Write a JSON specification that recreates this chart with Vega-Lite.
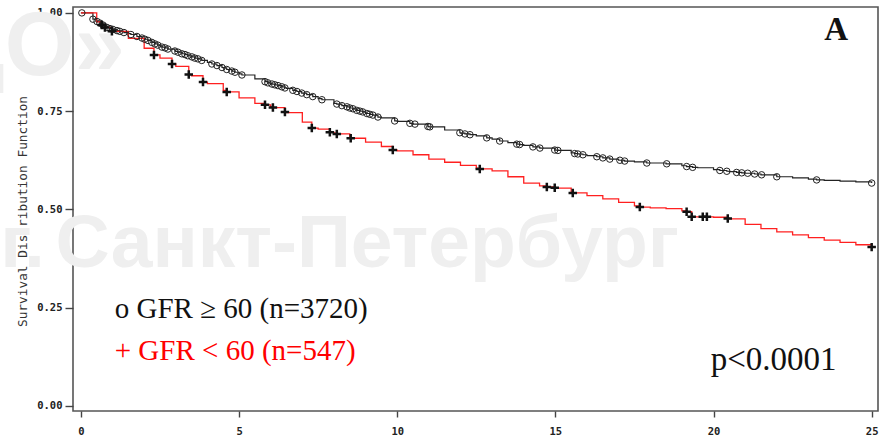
{
  "$schema": "https://vega.github.io/schema/vega-lite/v6.json",
  "width": 805,
  "height": 404,
  "autosize": {"type": "none"},
  "padding": {"left": 73, "top": 7, "right": 4, "bottom": 26},
  "background": "white",
  "config": {
    "view": {"stroke": "#555555", "strokeWidth": 1.6},
    "axis": {"grid": false, "domain": false, "tickColor": "#444444", "tickWidth": 1.4, "labelFont": "DejaVu Sans Mono", "labelFontWeight": "bold", "labelFontSize": 10.5, "labelColor": "#222222"}
  },
  "datasets": {
    "km": [
      {"g":"hi","t":0,"s":1.000,"c":0},{"g":"hi","t":0.5,"s":0.978,"c":0},{"g":"hi","t":1,"s":0.958,"c":0},{"g":"hi","t":1.5,"s":0.947,"c":0},{"g":"hi","t":2,"s":0.934,"c":0},{"g":"hi","t":2.5,"s":0.916,"c":0},{"g":"hi","t":3,"s":0.902,"c":0},{"g":"hi","t":3.5,"s":0.888,"c":0},{"g":"hi","t":4,"s":0.874,"c":0},{"g":"hi","t":4.5,"s":0.860,"c":0},{"g":"hi","t":5,"s":0.845,"c":0},{"g":"hi","t":5.5,"s":0.832,"c":0},{"g":"hi","t":6,"s":0.820,"c":0},{"g":"hi","t":6.5,"s":0.808,"c":0},{"g":"hi","t":7,"s":0.796,"c":0},{"g":"hi","t":7.5,"s":0.782,"c":0},{"g":"hi","t":8,"s":0.770,"c":0},{"g":"hi","t":8.5,"s":0.758,"c":0},{"g":"hi","t":9,"s":0.745,"c":0},{"g":"hi","t":9.5,"s":0.733,"c":0},{"g":"hi","t":10,"s":0.724,"c":0},{"g":"hi","t":10.5,"s":0.717,"c":0},{"g":"hi","t":11,"s":0.710,"c":0},{"g":"hi","t":11.5,"s":0.702,"c":0},{"g":"hi","t":12,"s":0.694,"c":0},{"g":"hi","t":12.5,"s":0.687,"c":0},{"g":"hi","t":13,"s":0.679,"c":0},{"g":"hi","t":13.5,"s":0.670,"c":0},{"g":"hi","t":14,"s":0.663,"c":0},{"g":"hi","t":14.5,"s":0.657,"c":0},{"g":"hi","t":15,"s":0.651,"c":0},{"g":"hi","t":15.5,"s":0.644,"c":0},{"g":"hi","t":16,"s":0.637,"c":0},{"g":"hi","t":16.5,"s":0.631,"c":0},{"g":"hi","t":17,"s":0.625,"c":0},{"g":"hi","t":17.5,"s":0.621,"c":0},{"g":"hi","t":18,"s":0.618,"c":0},{"g":"hi","t":18.5,"s":0.616,"c":0},{"g":"hi","t":19,"s":0.611,"c":0},{"g":"hi","t":19.5,"s":0.606,"c":0},{"g":"hi","t":20,"s":0.601,"c":0},{"g":"hi","t":20.5,"s":0.596,"c":0},{"g":"hi","t":21,"s":0.592,"c":0},{"g":"hi","t":21.5,"s":0.588,"c":0},{"g":"hi","t":22.5,"s":0.580,"c":0},{"g":"hi","t":23,"s":0.577,"c":0},{"g":"hi","t":23.5,"s":0.574,"c":0},{"g":"hi","t":24,"s":0.572,"c":0},{"g":"hi","t":24.5,"s":0.570,"c":0},
      {"g":"hi","t":0.03,"s":1.000,"c":1},{"g":"hi","t":0.38,"s":0.984,"c":1},{"g":"hi","t":0.51,"s":0.978,"c":1},{"g":"hi","t":0.60,"s":0.974,"c":1},{"g":"hi","t":0.70,"s":0.969,"c":1},{"g":"hi","t":0.82,"s":0.963,"c":1},{"g":"hi","t":0.92,"s":0.960,"c":1},{"g":"hi","t":1.01,"s":0.958,"c":1},{"g":"hi","t":1.14,"s":0.955,"c":1},{"g":"hi","t":1.23,"s":0.953,"c":1},{"g":"hi","t":1.36,"s":0.950,"c":1},{"g":"hi","t":1.58,"s":0.945,"c":1},{"g":"hi","t":1.77,"s":0.940,"c":1},{"g":"hi","t":1.93,"s":0.936,"c":1},{"g":"hi","t":2.02,"s":0.933,"c":1},{"g":"hi","t":2.12,"s":0.930,"c":1},{"g":"hi","t":2.24,"s":0.925,"c":1},{"g":"hi","t":2.34,"s":0.921,"c":1},{"g":"hi","t":2.43,"s":0.918,"c":1},{"g":"hi","t":2.56,"s":0.913,"c":1},{"g":"hi","t":2.66,"s":0.911,"c":1},{"g":"hi","t":2.75,"s":0.908,"c":1},{"g":"hi","t":2.97,"s":0.903,"c":1},{"g":"hi","t":3.07,"s":0.900,"c":1},{"g":"hi","t":3.19,"s":0.896,"c":1},{"g":"hi","t":3.29,"s":0.894,"c":1},{"g":"hi","t":3.38,"s":0.891,"c":1},{"g":"hi","t":3.51,"s":0.888,"c":1},{"g":"hi","t":3.60,"s":0.885,"c":1},{"g":"hi","t":3.70,"s":0.883,"c":1},{"g":"hi","t":3.82,"s":0.879,"c":1},{"g":"hi","t":4.14,"s":0.870,"c":1},{"g":"hi","t":4.30,"s":0.866,"c":1},{"g":"hi","t":4.46,"s":0.861,"c":1},{"g":"hi","t":4.61,"s":0.856,"c":1},{"g":"hi","t":4.77,"s":0.852,"c":1},{"g":"hi","t":4.87,"s":0.849,"c":1},{"g":"hi","t":5.09,"s":0.842,"c":1},{"g":"hi","t":5.82,"s":0.825,"c":1},{"g":"hi","t":5.91,"s":0.822,"c":1},{"g":"hi","t":6.04,"s":0.819,"c":1},{"g":"hi","t":6.13,"s":0.817,"c":1},{"g":"hi","t":6.23,"s":0.815,"c":1},{"g":"hi","t":6.35,"s":0.812,"c":1},{"g":"hi","t":6.45,"s":0.809,"c":1},{"g":"hi","t":6.70,"s":0.803,"c":1},{"g":"hi","t":6.83,"s":0.800,"c":1},{"g":"hi","t":6.98,"s":0.796,"c":1},{"g":"hi","t":7.14,"s":0.792,"c":1},{"g":"hi","t":7.33,"s":0.787,"c":1},{"g":"hi","t":7.62,"s":0.779,"c":1},{"g":"hi","t":8.09,"s":0.768,"c":1},{"g":"hi","t":8.25,"s":0.764,"c":1},{"g":"hi","t":8.41,"s":0.761,"c":1},{"g":"hi","t":8.50,"s":0.758,"c":1},{"g":"hi","t":8.60,"s":0.756,"c":1},{"g":"hi","t":8.72,"s":0.752,"c":1},{"g":"hi","t":8.82,"s":0.750,"c":1},{"g":"hi","t":8.91,"s":0.748,"c":1},{"g":"hi","t":9.04,"s":0.744,"c":1},{"g":"hi","t":9.13,"s":0.742,"c":1},{"g":"hi","t":9.23,"s":0.740,"c":1},{"g":"hi","t":9.39,"s":0.735,"c":1},{"g":"hi","t":9.92,"s":0.725,"c":1},{"g":"hi","t":10.40,"s":0.719,"c":1},{"g":"hi","t":10.56,"s":0.717,"c":1},{"g":"hi","t":10.97,"s":0.711,"c":1},{"g":"hi","t":11.03,"s":0.710,"c":1},{"g":"hi","t":11.98,"s":0.695,"c":1},{"g":"hi","t":12.14,"s":0.692,"c":1},{"g":"hi","t":12.30,"s":0.690,"c":1},{"g":"hi","t":12.83,"s":0.682,"c":1},{"g":"hi","t":13.24,"s":0.674,"c":1},{"g":"hi","t":13.78,"s":0.666,"c":1},{"g":"hi","t":13.87,"s":0.665,"c":1},{"g":"hi","t":14.29,"s":0.659,"c":1},{"g":"hi","t":14.51,"s":0.656,"c":1},{"g":"hi","t":14.98,"s":0.651,"c":1},{"g":"hi","t":15.08,"s":0.650,"c":1},{"g":"hi","t":15.61,"s":0.642,"c":1},{"g":"hi","t":15.71,"s":0.641,"c":1},{"g":"hi","t":15.87,"s":0.639,"c":1},{"g":"hi","t":16.31,"s":0.634,"c":1},{"g":"hi","t":16.50,"s":0.631,"c":1},{"g":"hi","t":16.72,"s":0.628,"c":1},{"g":"hi","t":17.04,"s":0.625,"c":1},{"g":"hi","t":17.19,"s":0.623,"c":1},{"g":"hi","t":17.89,"s":0.618,"c":1},{"g":"hi","t":18.52,"s":0.616,"c":1},{"g":"hi","t":19.15,"s":0.609,"c":1},{"g":"hi","t":19.34,"s":0.607,"c":1},{"g":"hi","t":20.20,"s":0.599,"c":1},{"g":"hi","t":20.42,"s":0.597,"c":1},{"g":"hi","t":20.73,"s":0.594,"c":1},{"g":"hi","t":20.89,"s":0.593,"c":1},{"g":"hi","t":21.08,"s":0.592,"c":1},{"g":"hi","t":21.30,"s":0.590,"c":1},{"g":"hi","t":21.52,"s":0.588,"c":1},{"g":"hi","t":22.00,"s":0.583,"c":1},{"g":"hi","t":23.26,"s":0.575,"c":1},{"g":"hi","t":25.00,"s":0.567,"c":1},
      {"g":"lo","t":0,"s":1.000,"c":0},{"g":"lo","t":0.5,"s":0.977,"c":0},{"g":"lo","t":1,"s":0.953,"c":0},{"g":"lo","t":1.5,"s":0.935,"c":0},{"g":"lo","t":2,"s":0.910,"c":0},{"g":"lo","t":2.5,"s":0.885,"c":0},{"g":"lo","t":3,"s":0.864,"c":0},{"g":"lo","t":3.5,"s":0.840,"c":0},{"g":"lo","t":4,"s":0.820,"c":0},{"g":"lo","t":4.5,"s":0.803,"c":0},{"g":"lo","t":5,"s":0.784,"c":0},{"g":"lo","t":5.5,"s":0.770,"c":0},{"g":"lo","t":6,"s":0.761,"c":0},{"g":"lo","t":6.5,"s":0.746,"c":0},{"g":"lo","t":7,"s":0.722,"c":0},{"g":"lo","t":7.5,"s":0.704,"c":0},{"g":"lo","t":8,"s":0.694,"c":0},{"g":"lo","t":8.5,"s":0.682,"c":0},{"g":"lo","t":9,"s":0.671,"c":0},{"g":"lo","t":9.5,"s":0.660,"c":0},{"g":"lo","t":10,"s":0.649,"c":0},{"g":"lo","t":10.5,"s":0.639,"c":0},{"g":"lo","t":11,"s":0.628,"c":0},{"g":"lo","t":11.5,"s":0.620,"c":0},{"g":"lo","t":12,"s":0.612,"c":0},{"g":"lo","t":12.5,"s":0.605,"c":0},{"g":"lo","t":13,"s":0.598,"c":0},{"g":"lo","t":13.5,"s":0.583,"c":0},{"g":"lo","t":14,"s":0.567,"c":0},{"g":"lo","t":14.5,"s":0.560,"c":0},{"g":"lo","t":15,"s":0.554,"c":0},{"g":"lo","t":15.5,"s":0.543,"c":0},{"g":"lo","t":16,"s":0.535,"c":0},{"g":"lo","t":16.5,"s":0.527,"c":0},{"g":"lo","t":17,"s":0.518,"c":0},{"g":"lo","t":17.5,"s":0.509,"c":0},{"g":"lo","t":18,"s":0.504,"c":0},{"g":"lo","t":18.5,"s":0.502,"c":0},{"g":"lo","t":19,"s":0.496,"c":0},{"g":"lo","t":19.5,"s":0.481,"c":0},{"g":"lo","t":20,"s":0.480,"c":0},{"g":"lo","t":20.5,"s":0.476,"c":0},{"g":"lo","t":21,"s":0.462,"c":0},{"g":"lo","t":21.5,"s":0.451,"c":0},{"g":"lo","t":22,"s":0.443,"c":0},{"g":"lo","t":22.5,"s":0.435,"c":0},{"g":"lo","t":23,"s":0.428,"c":0},{"g":"lo","t":23.5,"s":0.422,"c":0},{"g":"lo","t":24,"s":0.416,"c":0},{"g":"lo","t":24.5,"s":0.410,"c":0},
      {"g":"lo","t":0.66,"s":0.969,"c":1},{"g":"lo","t":0.76,"s":0.963,"c":1},{"g":"lo","t":0.98,"s":0.953,"c":1},{"g":"lo","t":2.31,"s":0.893,"c":1},{"g":"lo","t":2.88,"s":0.870,"c":1},{"g":"lo","t":3.41,"s":0.843,"c":1},{"g":"lo","t":3.86,"s":0.824,"c":1},{"g":"lo","t":4.61,"s":0.799,"c":1},{"g":"lo","t":5.82,"s":0.766,"c":1},{"g":"lo","t":6.07,"s":0.759,"c":1},{"g":"lo","t":6.45,"s":0.748,"c":1},{"g":"lo","t":7.30,"s":0.707,"c":1},{"g":"lo","t":7.87,"s":0.696,"c":1},{"g":"lo","t":8.09,"s":0.692,"c":1},{"g":"lo","t":8.53,"s":0.681,"c":1},{"g":"lo","t":9.86,"s":0.651,"c":1},{"g":"lo","t":12.61,"s":0.603,"c":1},{"g":"lo","t":14.73,"s":0.557,"c":1},{"g":"lo","t":14.98,"s":0.555,"c":1},{"g":"lo","t":15.55,"s":0.542,"c":1},{"g":"lo","t":17.67,"s":0.506,"c":1},{"g":"lo","t":19.15,"s":0.494,"c":1},{"g":"lo","t":19.31,"s":0.481,"c":1},{"g":"lo","t":19.66,"s":0.481,"c":1},{"g":"lo","t":19.79,"s":0.481,"c":1},{"g":"lo","t":20.45,"s":0.477,"c":1},{"g":"lo","t":25.00,"s":0.404,"c":1}
    ],
    "notes": [
      {"label": "Санкт-Петербург", "kind": "wm"},
      {"label": "г.", "kind": "wm2"},
      {"label": "ДО»", "kind": "wm3"},
      {"label": "o GFR ≥ 60 (n=3720)", "kind": "hi"},
      {"label": "+ GFR < 60 (n=547)", "kind": "lo"},
      {"label": "p<0.0001", "kind": "p"},
      {"label": "A", "kind": "panel"}
    ]
  },
  "layer": [
    {"data": {"name": "notes"}, "transform": [{"filter": "datum.kind === 'wm'"}],
     "mark": {"type": "text", "font": "Liberation Sans", "fontWeight": "bold", "fontSize": 75, "color": "#efefef", "align": "left", "baseline": "alphabetic"},
     "encoding": {"text": {"field": "label"}, "x": {"datum": -0.8, "type": "quantitative"}, "y": {"datum": 0.354, "type": "quantitative"}}},
    {"data": {"name": "notes"}, "transform": [{"filter": "datum.kind === 'wm2'"}],
     "mark": {"type": "text", "font": "Liberation Sans", "fontWeight": "bold", "fontSize": 75, "color": "#efefef", "align": "left", "baseline": "alphabetic"},
     "encoding": {"text": {"field": "label"}, "x": {"datum": -2.55, "type": "quantitative"}, "y": {"datum": 0.354, "type": "quantitative"}}},
    {"data": {"name": "notes"}, "transform": [{"filter": "datum.kind === 'wm3'"}],
     "mark": {"type": "text", "font": "Liberation Sans", "fontWeight": "bold", "fontSize": 90, "color": "#efefef", "align": "right", "baseline": "alphabetic"},
     "encoding": {"text": {"field": "label"}, "x": {"datum": 1.39, "type": "quantitative"}, "y": {"datum": 0.842, "type": "quantitative"}}},
    {
      "data": {"name": "km"},
      "encoding": {
        "x": {"field": "t", "type": "quantitative", "scale": {"domain": [-0.25, 25.2], "nice": false, "zero": false}, "axis": {"values": [0, 5, 10, 15, 20, 25], "title": null, "tickSize": 6, "labelPadding": 9}},
        "y": {"field": "s", "type": "quantitative", "scale": {"domain": [-0.013, 1.015], "nice": false, "zero": false}, "axis": {"values": [0, 0.25, 0.5, 0.75, 1], "format": ".2f", "title": "Survival Distribution Function", "titleFont": "DejaVu Sans Mono", "titleFontWeight": "normal", "titleFontSize": 12.8, "titleColor": "#333333", "titleX": -51, "titleY": 204, "titleAlign": "center", "titleBaseline": "middle", "tickSize": 8, "labelPadding": 3}}
      },
      "layer": [
        {"transform": [{"filter": "datum.g === 'hi'"}],
         "mark": {"type": "line", "interpolate": "step-after", "color": "#222222", "strokeWidth": 1.2}},
        {"transform": [{"filter": "datum.g === 'lo'"}],
         "mark": {"type": "line", "interpolate": "step-after", "color": "#ff2020", "strokeWidth": 1.3}},
        {"transform": [{"filter": "datum.g === 'hi' && datum.c === 1"}],
         "mark": {"type": "point", "shape": "circle", "filled": false, "stroke": "#222222", "strokeWidth": 1, "size": 42, "opacity": 1}},
        {"transform": [{"filter": "datum.g === 'lo' && datum.c === 1"}],
         "mark": {"type": "point", "shape": "M-1,0L1,0M0,-1L0,1", "filled": false, "stroke": "#111111", "strokeWidth": 2.5, "size": 72, "opacity": 1}}
      ]
    },
    {"data": {"name": "notes"}, "transform": [{"filter": "datum.kind === 'hi'"}],
     "mark": {"type": "text", "font": "Liberation Serif", "fontSize": 29, "color": "#111111", "align": "left", "baseline": "alphabetic"},
     "encoding": {"text": {"field": "label"}, "x": {"datum": 1.07, "type": "quantitative"}, "y": {"datum": 0.224, "type": "quantitative"}}},
    {"data": {"name": "notes"}, "transform": [{"filter": "datum.kind === 'lo'"}],
     "mark": {"type": "text", "font": "Liberation Serif", "fontSize": 29, "color": "#ff0000", "align": "left", "baseline": "alphabetic"},
     "encoding": {"text": {"field": "label"}, "x": {"datum": 1.07, "type": "quantitative"}, "y": {"datum": 0.117, "type": "quantitative"}}},
    {"data": {"name": "notes"}, "transform": [{"filter": "datum.kind === 'p'"}],
     "mark": {"type": "text", "font": "Liberation Serif", "fontSize": 33, "color": "#111111", "align": "left", "baseline": "alphabetic"},
     "encoding": {"text": {"field": "label"}, "x": {"datum": 19.91, "type": "quantitative"}, "y": {"datum": 0.092, "type": "quantitative"}}},
    {"data": {"name": "notes"}, "transform": [{"filter": "datum.kind === 'panel'"}],
     "mark": {"type": "text", "font": "Liberation Serif", "fontWeight": "bold", "fontSize": 33, "color": "#111111", "align": "center", "baseline": "alphabetic"},
     "encoding": {"text": {"field": "label"}, "x": {"datum": 23.88, "type": "quantitative"}, "y": {"datum": 0.931, "type": "quantitative"}}}
  ]
}
